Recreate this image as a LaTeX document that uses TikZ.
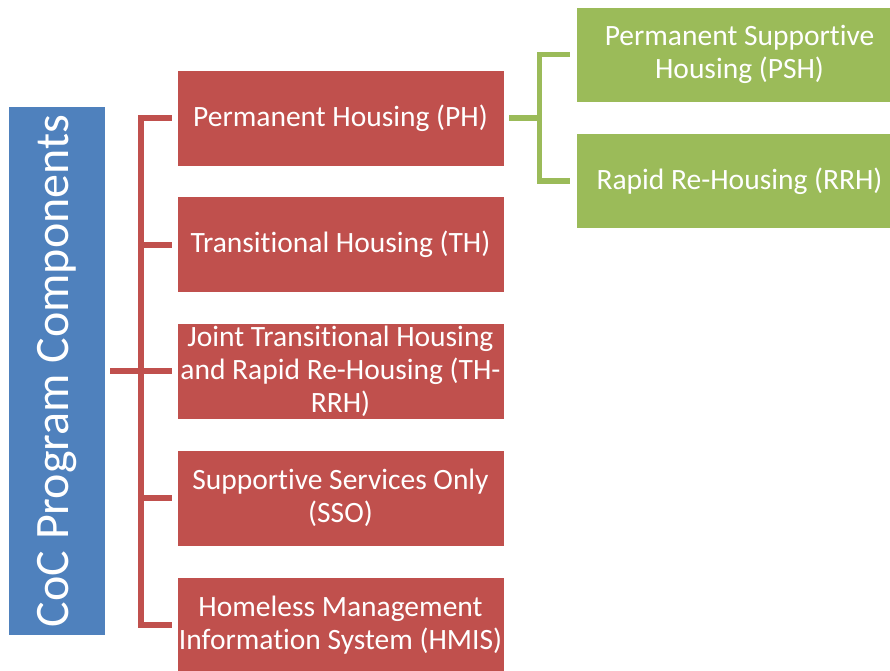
\documentclass[tikz,border=0pt]{standalone}
\usepackage{fontspec}
\setmainfont{Carlito}[Ligatures=NoCommon]
\definecolor{cocblue}{HTML}{4F81BD}
\definecolor{cocred}{HTML}{C0504D}
\definecolor{cocgreen}{HTML}{9BBB59}
\begin{document}
\begin{tikzpicture}[x=1pt,y=-1pt,
  box/.style={rectangle, draw=white, line width=0.8pt, text=white, align=center,
    inner sep=0pt, minimum width=327pt, minimum height=96pt,
    font=\fontsize{29.5}{33}\selectfont},
  redbox/.style={box, fill=cocred},
  greenbox/.style={box, fill=cocgreen, minimum height=95pt},
  redline/.style={draw=cocred, line width=6pt},
  greenline/.style={draw=cocgreen, line width=5.5pt}]
\useasboundingbox (0,0) rectangle (890,670);

% root
\node[rectangle, fill=cocblue, minimum width=96pt, minimum height=528pt, inner sep=0pt]
  (root) at (57,371) {};
\node[text=white, rotate=90, font=\fontsize{48}{54}\selectfont] (rootlabel) at (root.center)
  {CoC Program Components};

% program components
\node[redbox] (ph)   at (340.5,118)   {Permanent Housing (PH)};
\node[redbox] (th)   at (340.5,244.5) {Transitional Housing (TH)};
\node[redbox] (thr)  at (340.5,371)   {Joint Transitional Housing\\and Rapid Re-Housing (TH-\\RRH)};
\node[redbox] (sso)  at (340.5,498)   {Supportive Services Only\\(SSO)};
\node[redbox] (hmis) at (340.5,625)   {Homeless Management\\Information System (HMIS)};

% permanent housing types
\node[greenbox] (psh) at (739.5,54.5) {Permanent Supportive\\Housing (PSH)};
\node[greenbox] (rrh) at (739.5,181)  {Rapid Re-Housing (RRH)};

% red bracket
\draw[redline, line join=miter]
  ([xshift=-5pt]ph.west) -- ++(-31,0) |- ([xshift=-5pt]hmis.west);
\draw[redline] ([xshift=-5pt]th.west) -- ++(-31,0);
\draw[redline] ([xshift=-5pt]sso.west) -- ++(-31,0);
\draw[redline] ([xshift=5pt]root.east) -- ([xshift=-5pt]thr.west);

% green bracket
\draw[greenline, line join=miter]
  ([xshift=-6pt]psh.west) -- ++(-30,0) |- ([xshift=-6pt]rrh.west);
\draw[greenline] ([xshift=5pt]ph.east) -- ++(33,0);
\end{tikzpicture}
\end{document}
